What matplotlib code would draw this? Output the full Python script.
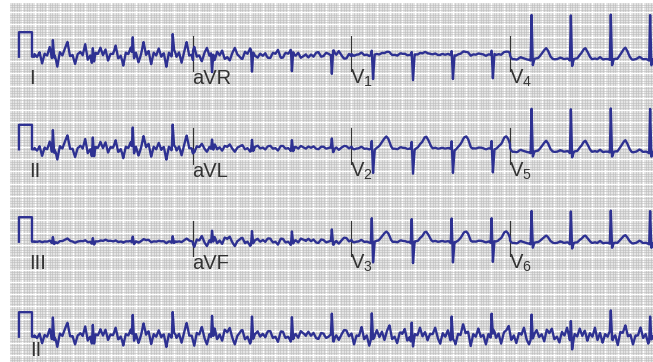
"""12-lead ECG sheet with a lead II rhythm strip, drawn on mm paper."""

import matplotlib
matplotlib.use("Agg")  # headless plotting
import matplotlib.pyplot as plt
from matplotlib.ticker import MultipleLocator
import numpy as np

# ---------------------------------------------------------------------------
# Data (seconds, millivolts)
# ---------------------------------------------------------------------------
# R-peak times; the rhythm is the same on every lead
BEAT_TIMES = [0.29, 0.92, 1.55, 2.18, 2.80, 3.43, 4.06, 4.69,
              5.32, 5.95, 6.58, 7.21, 7.84, 8.46, 9.09, 9.71]

# one beat: P on/peak/off, Q on, Q, R, S, J, then the T wave (s from R)
BEAT_OFFSETS = [-0.22, -0.17, -0.12, -0.04, -0.015, 0.0, 0.02, 0.045,
                0.10, 0.16, 0.20, 0.23, 0.26, 0.30, 0.33]

BEAT_I   = [0, 0.08, 0, 0, -0.05, 0.70, -0.10, 0, 0.01, 0.07, 0.13, 0.15, 0.11, 0.03, 0]
BEAT_II  = [0, 0.10, 0, 0, -0.05, 0.85, -0.15, 0, 0.01, 0.10, 0.18, 0.20, 0.15, 0.04, 0]
BEAT_III = [0, 0.03, 0, 0, -0.05, 0.20, -0.10, 0, 0, 0.04, 0.07, 0.08, 0.06, 0.02, 0]
BEAT_AVR = [0, -0.08, 0, 0, 0.05, -0.75, 0.10, 0, 0, -0.07, -0.13, -0.15, -0.11, -0.03, 0]
BEAT_AVL = [0, 0.03, 0, 0, -0.05, 0.35, -0.15, 0, 0, 0.02, 0.04, 0.05, 0.04, 0.01, 0]
BEAT_AVF = [0, 0.06, 0, 0, -0.05, 0.45, -0.10, 0, 0, 0.06, 0.11, 0.12, 0.09, 0.02, 0]
BEAT_V1  = [0, 0.05, 0, 0, 0.00, 0.15, -1.00, 0, 0, 0.06, 0.11, 0.12, 0.09, 0.02, 0]
BEAT_V2  = [0, 0.05, 0, 0, 0.00, 0.30, -1.00, -0.05, 0.05, 0.25, 0.45, 0.50, 0.38, 0.10, 0]
BEAT_V3  = [0, 0.05, 0, 0, -0.05, 0.95, -0.85, 0, 0.03, 0.21, 0.38, 0.42, 0.32, 0.08, 0]
BEAT_V4  = [0, 0.08, 0, 0, -0.05, 1.80, -0.25, 0, 0.03, 0.22, 0.40, 0.45, 0.34, 0.09, 0]
BEAT_V5  = [0, 0.08, 0, 0, -0.05, 1.75, -0.20, 0, 0.03, 0.22, 0.40, 0.45, 0.34, 0.09, 0]
BEAT_V6  = [0, 0.08, 0, 0, -0.05, 1.30, -0.20, 0, 0.02, 0.15, 0.27, 0.30, 0.23, 0.06, 0]

# muscle tremor on the right-arm electrode, 0.04 s steps from t = 0
TREMOR_DT = 0.04
TREMOR = [
    0.05, -0.05, 0.10, -0.35, 0.05, 0.00, 0.30, -0.10, 0.05, -0.40, 0.10, -0.05, 0.15,
    0.35, -0.10, 0.00, -0.30, 0.05, 0.10, -0.05, 0.40, -0.15, 0.00, -0.35, 0.10,
    0.05, 0.25, -0.05, 0.10, -0.30, 0.00, 0.05, 0.35, -0.10, -0.05, -0.40, 0.10, 0.05,
    0.30, -0.05, 0.10, -0.25, 0.00, 0.40, -0.10, 0.05, -0.35, 0.10, 0.00, 0.25,
    -0.10, 0.05, -0.40, 0.10, 0.00, 0.30, -0.05, 0.10, -0.30, 0.05, 0.35, -0.10, 0.00,
    -0.35, 0.15, 0.05, 0.30, -0.05, -0.30, 0.10, 0.00, 0.35, -0.10, 0.05, -0.25,
    0.10, 0.00, 0.25, -0.05, -0.30, 0.05, 0.10, 0.20, -0.10, 0.00, -0.25, 0.05, 0.10,
    0.20, -0.05, 0.00, -0.20, 0.05, 0.15, -0.05, 0.00, -0.20, 0.10, 0.15, -0.05,
    0.00, -0.15, 0.05, 0.10, -0.05, 0.15, 0.00, -0.15, 0.05, 0.00, 0.15, -0.05, -0.10,
    0.05, 0.10, -0.05, 0.00, 0.15, -0.10, 0.05, -0.15, 0.00, 0.10, 0.05, -0.10,
    0.10, -0.30, 0.05, 0.00, 0.30, -0.10, 0.05, -0.35, 0.10, 0.00, 0.25, -0.05, 0.10,
    -0.30, 0.05, 0.35, -0.10, 0.00, -0.25, 0.10, 0.05, 0.30, -0.15, 0.00, -0.35,
    0.10, 0.05, 0.30, -0.10, 0.00, -0.30, 0.05, 0.10, 0.35, -0.05, -0.35, 0.10, 0.00,
    0.25, -0.10, 0.05, -0.30, 0.10, 0.00, 0.35, -0.05, 0.05, -0.40, 0.10, 0.00,
    0.30, -0.10, 0.05, -0.30, 0.10, 0.00, 0.35, -0.05, 0.10, -0.35, 0.00, 0.05, 0.30,
    -0.15, 0.05, -0.25, 0.10, 0.00, 0.35, -0.10, -0.30, 0.05, 0.10, 0.25, -0.05,
    0.00, -0.35, 0.10, 0.05, 0.30, -0.10, 0.00, -0.30, 0.15, 0.05, 0.35, -0.05, -0.35,
    0.10, 0.00, 0.25, -0.10, 0.05, -0.30, 0.10, 0.00, 0.35, -0.15, 0.05, -0.25,
    0.10, 0.00, 0.30, -0.05, 0.05, -0.35, 0.10, 0.00, 0.25, -0.10, 0.05, -0.30, 0.05,
    0.00, 0.30, -0.05, 0.10, -0.25, 0.05, 0.00, 0.20, -0.10, 0.05, -0.05, 0.00,
]

LEADS = {
    "I": BEAT_I, "II": BEAT_II, "III": BEAT_III,
    "aVR": BEAT_AVR, "aVL": BEAT_AVL, "aVF": BEAT_AVF,
    "V1": BEAT_V1, "V2": BEAT_V2, "V3": BEAT_V3,
    "V4": BEAT_V4, "V5": BEAT_V5, "V6": BEAT_V6,
}
TREMOR_GAIN = {"I": 1.15, "II": 1.05, "III": 0.15, "aVR": -0.8, "aVL": 0.5, "aVF": 0.6,
               "V1": 0.15, "V2": 0.10, "V3": 0.10, "V4": 0.08, "V5": 0.08, "V6": 0.08}
BASELINE_SHIFT = {"I": 0.05, "II": 0.0, "III": 0.0, "aVR": 0.12, "aVL": 0.05, "aVF": 0.0,
                  "V1": 0.08, "V2": 0.03, "V3": 0.0, "V4": -0.10, "V5": -0.10, "V6": -0.05}

# sheet layout: three rows of four 2.5 s columns, then a lead II rhythm strip
ROWS = [["I", "aVR", "V1", "V4"],
        ["II", "aVL", "V2", "V5"],
        ["III", "aVF", "V3", "V6"]]
RHYTHM_LEAD = "II"
LABELS = {"I": "I", "II": "II", "III": "III", "aVR": "aVR", "aVL": "aVL", "aVF": "aVF",
          "V1": r"V$_\mathregular{1}$", "V2": r"V$_\mathregular{2}$", "V3": r"V$_\mathregular{3}$",
          "V4": r"V$_\mathregular{4}$", "V5": r"V$_\mathregular{5}$", "V6": r"V$_\mathregular{6}$"}

# ---------------------------------------------------------------------------
# Geometry / style
# ---------------------------------------------------------------------------
PX_PER_S = 63.4
PX_PER_MV = 24.5
T0_PX = 34.5             # x pixel of t = 0
ROW_BASE_PX = [56.7, 149.3, 241.7, 336.7]
COL_SPAN = 2.5
T_END = 9.76
TRACE = "#2e3192"
INK = "#333333"
LABEL_SIZE = 14.5

plt.rcParams["font.family"] = ["Liberation Sans", "DejaVu Sans"]
plt.rcParams["mathtext.fontset"] = "custom"
plt.rcParams["mathtext.rm"] = "Liberation Sans"


def lead_signal(name, t):
    v = np.zeros_like(t)
    for tb in BEAT_TIMES:
        v += np.interp(t - tb, BEAT_OFFSETS, LEADS[name], left=0, right=0)
    tt = np.arange(len(TREMOR)) * TREMOR_DT
    v += TREMOR_GAIN[name] * np.interp(t, tt, TREMOR)
    return v + BASELINE_SHIFT[name]


def calibration():
    # 1 mV, 0.2 s standardisation pulse ahead of each row
    return [-0.245, -0.245, -0.04, -0.04, 0.0], [0, 1, 1, 0, 0]


def main():
    fig = plt.figure(figsize=(6.53, 3.62), dpi=100)
    x0 = -(T0_PX - 10) / PX_PER_S
    x1 = (653 - T0_PX) / PX_PER_S
    ax = fig.add_axes([10 / 653, 0, 643 / 653, 359 / 362])
    ax.set_xlim(x0, x1)
    ax.set_ylim(-362 / PX_PER_MV, -3 / PX_PER_MV)

    # ECG paper: 1 mm grey minor squares, white 5 mm lines
    ax.set_facecolor("#e4e4e4")
    ax.xaxis.set_major_locator(MultipleLocator(0.2))
    ax.xaxis.set_minor_locator(MultipleLocator(0.04))
    ax.yaxis.set_major_locator(MultipleLocator(0.5))
    ax.yaxis.set_minor_locator(MultipleLocator(0.1))
    ax.grid(which="minor", color="#bcbcbc", linewidth=0.4)
    ax.grid(which="major", color="white", linewidth=0.8)
    ax.set_axisbelow(True)
    ax.tick_params(which="both", length=0, labelbottom=False, labelleft=False)
    for s in ax.spines.values():
        s.set_visible(False)

    base = [-p / PX_PER_MV for p in ROW_BASE_PX]
    dt = 0.001

    for r, leads in enumerate(ROWS):
        ct, cv = calibration()
        xs, ys = list(ct), list(cv)
        for c, name in enumerate(leads):
            t = np.arange(c * COL_SPAN, min((c + 1) * COL_SPAN, T_END) + dt / 2, dt)
            xs.extend(t)
            ys.extend(lead_signal(name, t))
            if c > 0:
                ax.plot([c * COL_SPAN] * 2, [base[r] + 0.85, base[r] - 0.6],
                        color=INK, linewidth=0.8, zorder=2)
            ax.text(c * COL_SPAN - 0.02 if c else -0.085, base[r] - 1.12, LABELS[name],
                    fontsize=LABEL_SIZE, color=INK, ha="left", va="baseline", clip_on=True)
        ax.plot(xs, np.array(ys) + base[r], color=TRACE, linewidth=1.7,
                solid_joinstyle="round", zorder=3)

    # rhythm strip
    ct, cv = calibration()
    t = np.arange(0, T_END + dt / 2, dt)
    xs = list(ct) + list(t)
    ys = list(cv) + list(lead_signal(RHYTHM_LEAD, t))
    ax.plot(xs, np.array(ys) + base[3], color=TRACE, linewidth=1.7,
            solid_joinstyle="round", zorder=3)
    ax.text(-0.075, base[3] - 0.8, LABELS[RHYTHM_LEAD], fontsize=LABEL_SIZE, color=INK,
            ha="left", va="baseline", clip_on=True)

    fig.savefig("out.png", dpi=100, facecolor="white")
    plt.close(fig)


if __name__ == "__main__":
    main()
